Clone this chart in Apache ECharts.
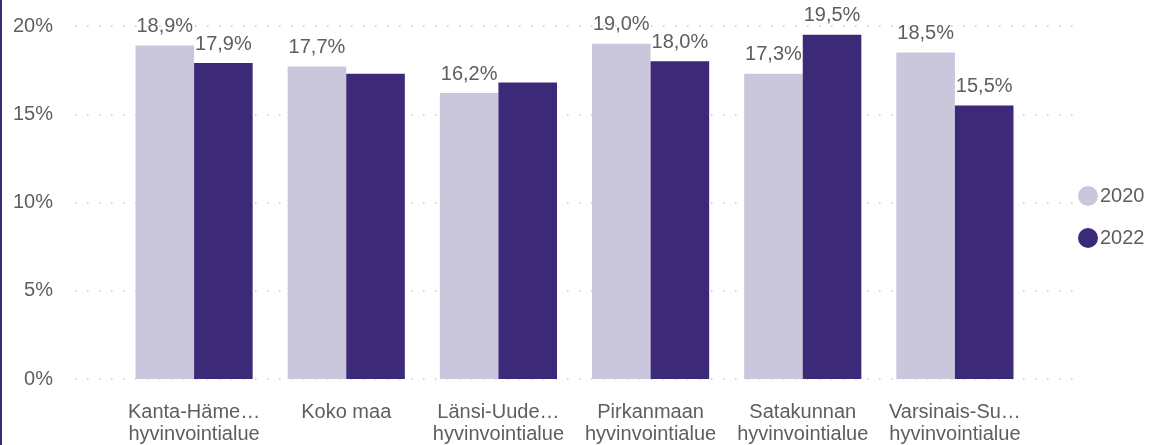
<!DOCTYPE html>
<html>
<head>
    <meta charset="UTF-8">
    <script src="https://cdn.jsdelivr.net/npm/echarts@6/dist/echarts.min.js"></script>
    <style>
        html, body { margin: 0; padding: 0; background: #fff; }
        #main { width: 1150px; height: 445px; }
    </style>
</head>
<body>
<div id="main"></div>
<script type="text/javascript">
    var categories = ['Kanta-Häme…\nhyvinvointialue', 'Koko maa', 'Länsi-Uude…\nhyvinvointialue',
        'Pirkanmaan\nhyvinvointialue', 'Satakunnan\nhyvinvointialue', 'Varsinais-Su…\nhyvinvointialue'];
    var values2020 = [18.9, 17.7, 16.2, 19.0, 17.3, 18.5];
    var values2022 = [17.9, 17.3, 16.8, 18.0, 19.5, 15.5];
    // which bars carry a data label in the original
    var labels2020 = [true, true, true, true, true, true];
    var labels2022 = [true, false, false, true, true, true];
    var yTicks = [0, 5, 10, 15, 20];

    var font = 'Liberation Sans, Arial, sans-serif';
    var textColor = '#605E5C';

    function toData(vals, shows) {
        return vals.map(function (v, i) {
            return { value: v, label: { show: shows[i] } };
        });
    }

    var labelStyle = {
        position: 'top',
        distance: 9,
        color: textColor,
        fontSize: 20,
        fontFamily: font,
        formatter: function (p) { return p.value.toFixed(1).replace('.', ',') + '%'; }
    };

    var myChart = echarts.init(document.getElementById('main'));
    var option = {
        animation: false,
        graphic: [{
            type: 'rect',
            shape: { x: 0, y: 0, width: 2, height: 445 },
            style: { fill: '#3B2A78' }
        }],
        legend: {
            orient: 'vertical',
            left: 1073,
            top: 181,
            itemGap: 22,
            icon: 'circle',
            itemWidth: 20,
            itemHeight: 20,
            textStyle: { color: textColor, fontSize: 20, fontFamily: font, padding: [0, 0, 0, -3] },
            data: ['2020', '2022']
        },
        grid: [
            { left: 75, right: 75, top: 26, bottom: 66 },
            { left: 118, right: 119, top: 26, bottom: 66 }
        ],
        xAxis: [
            { type: 'category', gridIndex: 0, data: [''], show: false },
            {
                type: 'category',
                gridIndex: 1,
                data: categories,
                axisLine: { show: false },
                axisTick: { show: false },
                axisLabel: {
                    interval: 0,
                    hideOverlap: false,
                    color: textColor,
                    fontSize: 20,
                    fontFamily: font,
                    lineHeight: 22,
                    margin: 22
                }
            }
        ],
        yAxis: [
            {
                type: 'value',
                gridIndex: 0,
                min: yTicks[0],
                max: yTicks[yTicks.length - 1],
                interval: 5,
                axisLine: { show: false },
                axisTick: { show: false },
                axisLabel: {
                    color: textColor,
                    fontSize: 20,
                    fontFamily: font,
                    margin: 22,
                    formatter: '{value}%'
                },
                splitLine: { lineStyle: { color: '#C8C6C4', width: 1.5, type: [1.5, 10.5] } }
            },
            {
                type: 'value',
                gridIndex: 1,
                min: yTicks[0],
                max: yTicks[yTicks.length - 1],
                interval: 5,
                show: false,
                splitLine: { show: false }
            }
        ],
        series: [
            {
                name: '2020',
                type: 'bar',
                xAxisIndex: 1,
                yAxisIndex: 1,
                barGap: '0%',
                barCategoryGap: '23%',
                itemStyle: { color: '#CAC7DD' },
                label: labelStyle,
                data: toData(values2020, labels2020)
            },
            {
                name: '2022',
                type: 'bar',
                xAxisIndex: 1,
                yAxisIndex: 1,
                itemStyle: { color: '#3C2A79' },
                label: labelStyle,
                data: toData(values2022, labels2022)
            }
        ]
    };
    myChart.setOption(option);
</script>
</body>
</html>
